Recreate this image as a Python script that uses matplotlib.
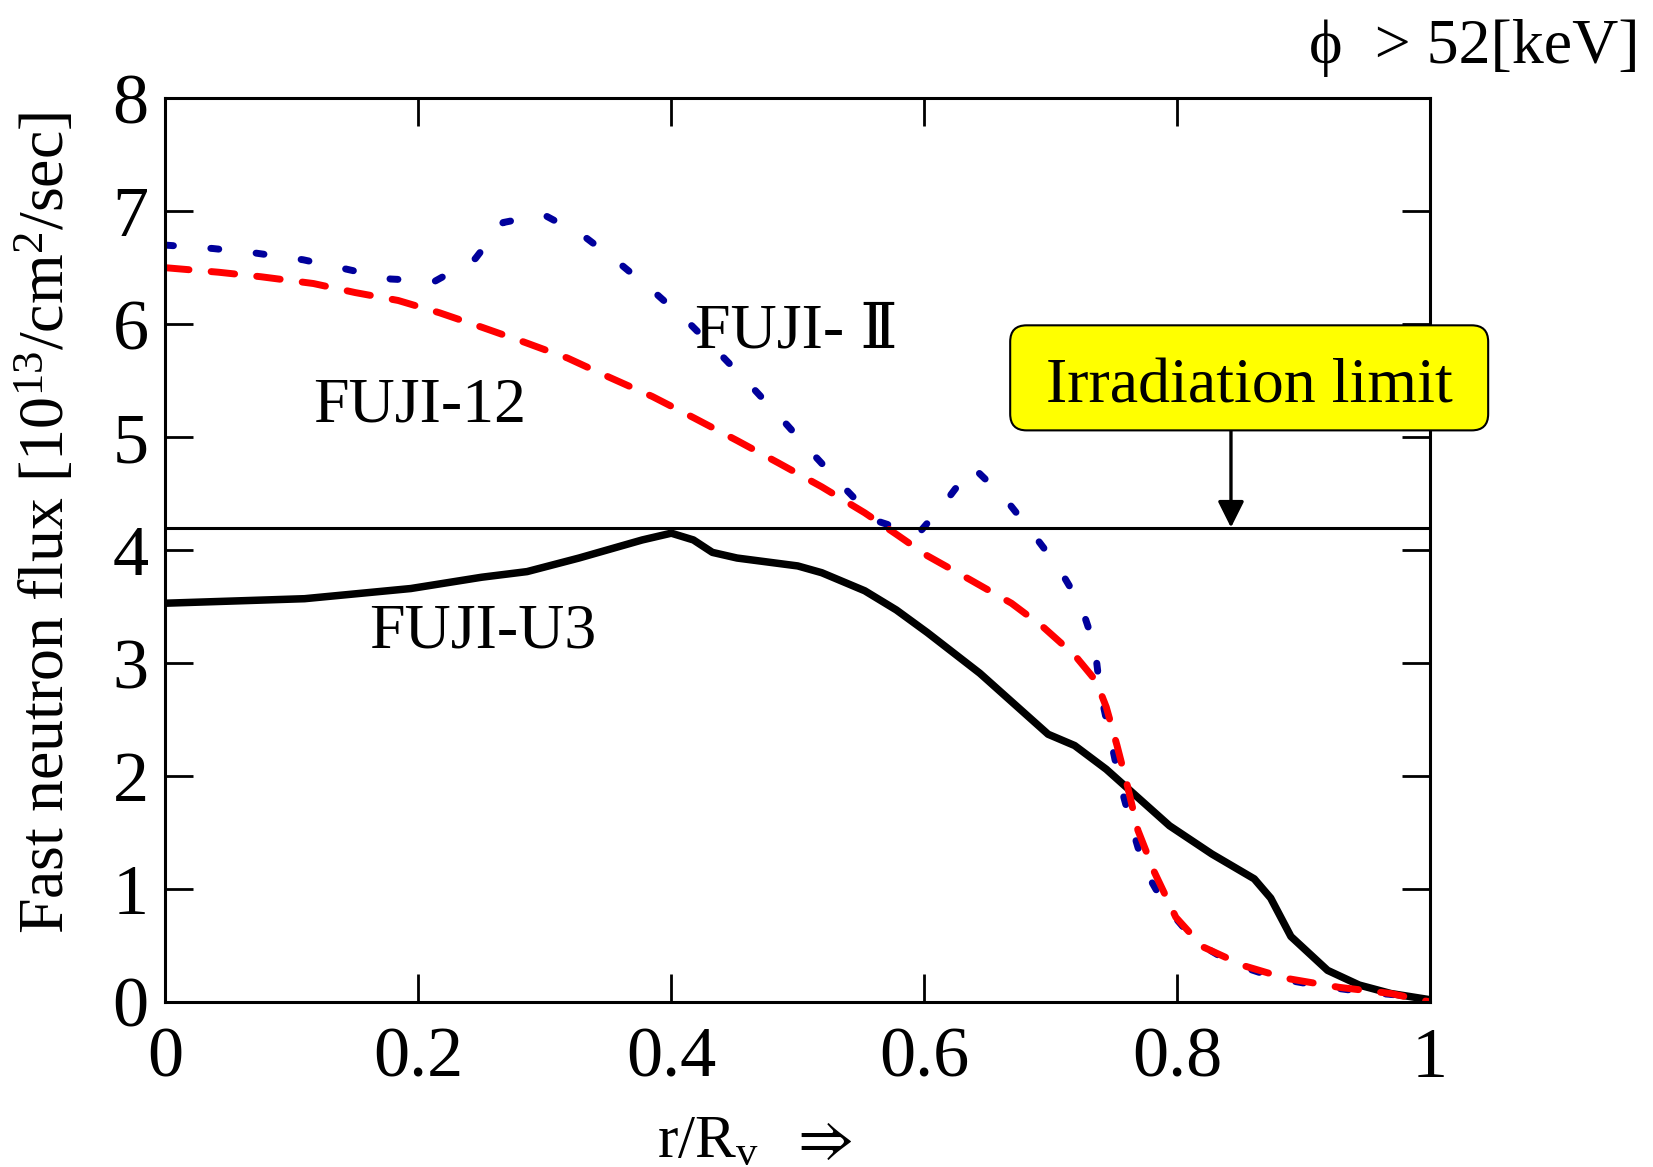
import matplotlib
matplotlib.use("Agg")
import matplotlib.pyplot as plt
from matplotlib.patches import FancyBboxPatch

plt.rcParams['font.family'] = ['Liberation Serif', 'DejaVu Serif']
plt.rcParams['mathtext.fontset'] = 'custom'
plt.rcParams['mathtext.rm'] = 'Liberation Serif'
plt.rcParams['mathtext.it'] = 'Liberation Serif:italic'
plt.rcParams['mathtext.fallback'] = 'stix'

# FUJI-U3 (solid black)
u3_x = [0.0, 0.11, 0.194, 0.25, 0.286, 0.327, 0.377, 0.40, 0.4175, 0.4325, 0.452,
        0.50, 0.519, 0.553, 0.578, 0.6025, 0.644, 0.678, 0.698, 0.719, 0.744,
        0.769, 0.794, 0.8275, 0.861, 0.874, 0.89, 0.919, 0.944, 0.969, 1.0]
u3_y = [3.53, 3.57, 3.66, 3.76, 3.81, 3.93, 4.09, 4.15, 4.09, 3.98, 3.93,
        3.86, 3.80, 3.64, 3.47, 3.27, 2.91, 2.57, 2.37, 2.27, 2.06,
        1.81, 1.56, 1.31, 1.09, 0.92, 0.58, 0.28, 0.15, 0.075, 0.02]

# FUJI-12 (red dashed)
f12_x = [0.0, 0.042, 0.0755, 0.117, 0.15, 0.184, 0.217, 0.251, 0.284, 0.318,
         0.351, 0.385, 0.418, 0.452, 0.485, 0.519, 0.553, 0.578, 0.6025, 0.636,
         0.669, 0.694, 0.719, 0.736, 0.744, 0.7525, 0.761, 0.769, 0.782, 0.799,
         0.82, 0.853, 0.886, 0.928, 0.969, 1.0]
f12_y = [6.50, 6.46, 6.42, 6.36, 6.28, 6.21, 6.10, 5.97, 5.84, 5.70,
         5.53, 5.36, 5.17, 4.97, 4.77, 4.56, 4.33, 4.14, 3.95, 3.74,
         3.53, 3.32, 3.07, 2.84, 2.61, 2.27, 1.90, 1.52, 1.15, 0.75,
         0.49, 0.32, 0.21, 0.13, 0.075, 0.0]

# FUJI-II (blue dotted)
f2_x = [0.0, 0.0375, 0.071, 0.109, 0.142, 0.178, 0.213, 0.245, 0.267, 0.299,
        0.332, 0.36, 0.388, 0.415, 0.44, 0.465, 0.489, 0.513, 0.537, 0.562,
        0.595, 0.617, 0.638, 0.663, 0.685, 0.706, 0.724, 0.735, 0.739, 0.747,
        0.755, 0.764, 0.774, 0.791, 0.815, 0.844, 0.879, 0.914, 0.95, 0.986, 1.0]
f2_y = [6.70, 6.67, 6.63, 6.57, 6.49, 6.40, 6.38, 6.58, 6.90, 6.97,
        6.77, 6.53, 6.27, 6.00, 5.72, 5.43, 5.14, 4.84, 4.55, 4.26,
        4.14, 4.43, 4.74, 4.47, 4.16, 3.85, 3.51, 3.14, 2.76, 2.35,
        1.93, 1.56, 1.18, 0.845, 0.53, 0.34, 0.21, 0.14, 0.086, 0.05, 0.02]

limit = 4.2

fig = plt.figure(figsize=(16.53, 11.67), dpi=100)
ax = fig.add_axes([0.1001, 0.1414, 0.765, 0.7744])

ax.plot(u3_x, u3_y, color='black', lw=5.4, solid_capstyle='round', solid_joinstyle='round')
ax.plot(f2_x, f2_y, color='#00009c', lw=5.0, dashes=(1.15, 5.4), dash_capstyle='round')
ax.plot(f12_x, f12_y, color='#ff0000', lw=5.0, dashes=(3.4, 3.2), dash_capstyle='round')
ax.axhline(limit, color='black', lw=2.2)

ax.set_xlim(0, 1)
ax.set_ylim(0, 8)
ax.set_xticks([0, 0.2, 0.4, 0.6, 0.8, 1])
ax.set_xticklabels(['0', '0.2', '0.4', '0.6', '0.8', '1'])
ax.set_yticks(range(0, 9))
ax.tick_params(direction='in', length=20, width=2, labelsize=52,
               top=True, right=True)
ax.tick_params(axis='x', pad=18)
ax.tick_params(axis='y', pad=12)
for s in ax.spines.values():
    s.set_linewidth(2.2)

# curve labels
ax.text(0.419, 5.93, 'FUJI- Ⅱ', fontsize=46, va='center', ha='left')
ax.text(0.1166, 5.27, 'FUJI-12', fontsize=46, va='center', ha='left')
ax.text(0.161, 3.27, 'FUJI-U3', fontsize=46, va='center', ha='left')

# irradiation limit box + arrow
box = FancyBboxPatch((0.668, 5.06), 0.378, 0.93,
                     boxstyle='round,pad=0,rounding_size=0.013',
                     mutation_aspect=1264.5 / 113,
                     facecolor='#ffff00', edgecolor='black', lw=1.5,
                     clip_on=False, zorder=5)
ax.add_patch(box)
ax.text(0.857, 5.44, 'Irradiation limit', fontsize=46, ha='center', va='center',
        zorder=6, clip_on=False)
ax.annotate('', xy=(0.8426, limit), xytext=(0.8426, 5.06),
            arrowprops=dict(arrowstyle='-|>', color='black', lw=2.4,
                            mutation_scale=40, shrinkA=0, shrinkB=0))

ax.text(0.466, -1.37, r'r/R$_{\mathrm{v}}$  $\Rightarrow$', fontsize=44,
        ha='center', va='baseline', clip_on=False)

fig.text(0.028, 0.552, r'Fast neutron flux [10$^{13}$/cm$^{2}$/sec]', fontsize=46,
         rotation=90, ha='center', va='center')
fig.text(0.992, 0.946, 'ϕ  > 52[keV]', fontsize=46, ha='right', va='baseline')

fig.savefig('out.png', dpi=100)
